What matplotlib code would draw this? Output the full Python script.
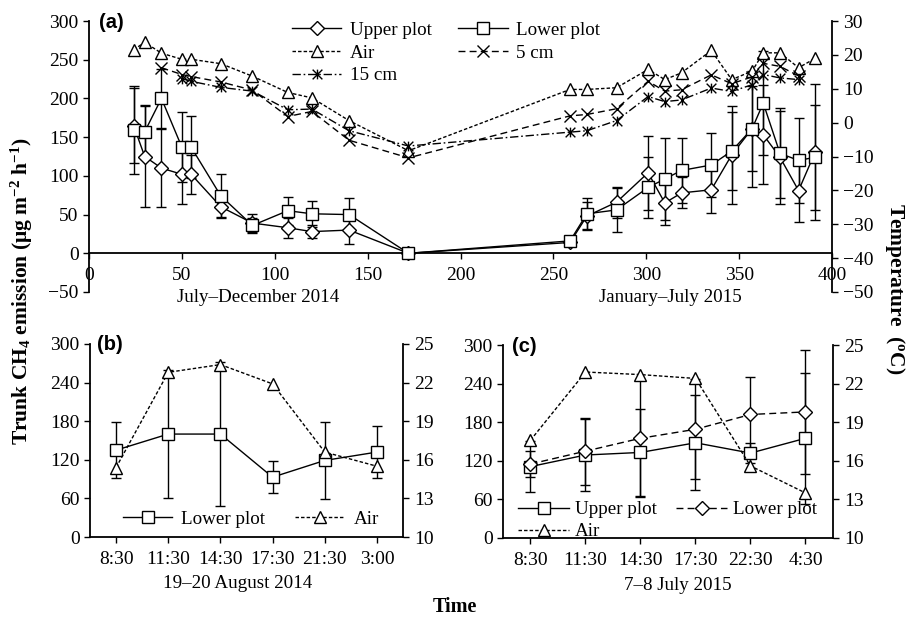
import matplotlib
matplotlib.use("Agg")
import matplotlib.pyplot as plt
from matplotlib.path import Path

plt.rcParams["font.family"] = "Liberation Serif"
plt.rcParams["font.size"] = 14
plt.rcParams["mathtext.fontset"] = "custom"
plt.rcParams["mathtext.rm"] = "Liberation Serif"
plt.rcParams["axes.linewidth"] = 1.3

W, H = 907, 621

# ---------------- panel (a) data ----------------
days = [24, 30, 39, 50, 55, 71, 88, 107, 120, 140, 172,
        259, 268, 284, 301, 310, 319, 335, 346, 357, 363, 372, 382, 391]
upper_a = [165, 125, 110, 102, 102, 60, 39, 33, 28, 30, 0,
           14, 48, 66, 104, 65, 78, 82, 127, 161, 153, 124, 81, 131]
upper_a_err = [48, 65, 50, 38, 25, 13, 12, 13, 8, 18, 0,
               3, 18, 20, 48, 28, 20, 30, 63, 75, 64, 60, 40, 88]
lower_a = [159, 157, 200, 137, 137, 74, 36, 55, 51, 50, 0,
           16, 51, 56, 85, 96, 107, 114, 132, 161, 194, 129, 120, 124]
lower_a_err = [57, 35, 38, 45, 40, 28, 10, 18, 17, 22, 0,
               3, 20, 28, 39, 53, 42, 41, 50, 55, 67, 58, 55, 68]
air_a = [21.5, 23.7, 20.5, 18.7, 18.7, 17.4, 13.7, 8.9, 7.3, 0.6, -8.3,
         9.8, 9.8, 10.3, 15.7, 12.7, 14.7, 21.3, 12.7, 15.2, 20.6, 20.6, 16.2, 19.0]
cm5_days = [39, 50, 55, 71, 88, 107, 120, 140, 172,
            259, 268, 284, 301, 310, 319, 335, 346, 357, 363, 372, 382]
cm5_a = [16.2, 14.2, 13.6, 12.0, 9.6, 1.8, 3.3, -5.2, -10.4,
         2.0, 2.4, 4.1, 12.2, 9.3, 9.7, 14.1, 11.5, 13.5, 17.5, 16.6, 13.8]
cm15_days = [50, 55, 71, 88, 107, 120, 140, 172,
             259, 268, 284, 301, 310, 319, 335, 346, 357, 363, 372, 382]
cm15_a = [13.0, 12.2, 10.4, 9.3, 3.8, 4.0, -2.4, -6.9,
          -2.8, -2.4, 0.6, 7.7, 6.2, 6.7, 10.2, 9.2, 11.2, 14.2, 13.2, 12.7]

# ---------------- panel (b) data ----------------
times_b = ["8:30", "11:30", "14:30", "17:30", "21:30", "3:00"]
lower_b = [135, 160, 160, 93, 119, 132]
lower_b_err = [43, 100, 112, 25, 60, 40]
air_b = [15.4, 22.8, 23.4, 21.9, 16.6, 15.5]

# ---------------- panel (c) data ----------------
times_c = ["8:30", "11:30", "14:30", "17:30", "22:30", "4:30"]
upper_c = [111, 129, 133, 148, 132, 155]
upper_c_err = [40, 56, 68, 74, 16, 102]
lower_c = [115, 135, 155, 169, 192, 196]
lower_c_err = [20, 52, 92, 78, 58, 96]
air_c = [17.6, 22.9, 22.7, 22.4, 15.6, 13.5]

# asterisk marker: X plus a vertical bar
asterisk = Path([(0, -1), (0, 1), (-1, -1), (1, 1), (-1, 1), (1, -1)],
                [Path.MOVETO, Path.LINETO, Path.MOVETO, Path.LINETO,
                 Path.MOVETO, Path.LINETO])

AIR_DASH = (2.5, 1.5)
CM5_DASH = (5, 3)
CM15_DASH = (6, 2, 1.2, 2)
mk = dict(mfc="white", mec="black", mew=1.0, color="black", lw=1.0)
eb = dict(fmt="none", ecolor="black", elinewidth=1.0, capsize=3.5, capthick=1.0)
LEG_FS = 13.7
TXT_FS = 13.7


def add_ax(l, t, r, b):
    return fig.add_axes([l / W, 1 - b / H, (r - l) / W, (b - t) / H])


def style_twin(ax2):
    for s in ["top", "bottom", "left"]:
        ax2.spines[s].set_visible(False)
    ax2.tick_params(axis="y", direction="out", length=4, width=1, pad=4)


fig = plt.figure(figsize=(W / 100, H / 100), dpi=100)

# ======================= (a) =======================
axa = add_ax(89, 21, 832, 292)
axa.errorbar(days, upper_a, yerr=upper_a_err, zorder=2, **eb)
axa.errorbar(days, lower_a, yerr=lower_a_err, zorder=2, **eb)
h_up, = axa.plot(days, upper_a, marker="D", ms=7, label="Upper plot", zorder=3, **mk)
h_lo, = axa.plot(days, lower_a, marker="s", ms=9, label="Lower plot", zorder=3, **mk)
axa.set_xlim(0, 400)
axa.set_ylim(-50, 300)
axa.set_xticks(range(0, 401, 50))
axa.set_yticks(range(-50, 301, 50))
axa.spines["bottom"].set_position(("data", 0))
axa.spines["top"].set_visible(False)
axa.spines["right"].set_visible(False)
axa.tick_params(axis="x", direction="out", length=4, width=1, pad=6)
axa.tick_params(axis="y", direction="out", length=4, width=1)

axa2 = axa.twinx()
h_air, = axa2.plot(days, air_a, marker="^", ms=9, dashes=AIR_DASH, label="Air", **mk)
h_5, = axa2.plot(cm5_days, cm5_a, marker="x", ms=8, dashes=CM5_DASH, label="5 cm", **mk)
h_15, = axa2.plot(cm15_days, cm15_a, marker=asterisk, ms=7, dashes=CM15_DASH, label="15 cm", **mk)
axa2.set_ylim(-50, 30)
axa2.set_yticks(range(-50, 31, 10))
style_twin(axa2)

axa2.legend([h_up, h_air, h_15, h_lo, h_5],
            ["Upper plot", "Air", "15 cm", "Lower plot", "5 cm"],
            ncol=2, loc="upper left", bbox_to_anchor=(0.273, 0.997),
            frameon=False, borderpad=0, borderaxespad=0, fontsize=LEG_FS,
            handlelength=2.6, handletextpad=0.45, columnspacing=1.4,
            labelspacing=0.28)

axa.text(91, -0.022, "July\u2013December 2014", transform=axa.get_xaxis_transform(),
         ha="center", va="center", fontsize=TXT_FS)
axa.text(313, -0.022, "January\u2013July 2015", transform=axa.get_xaxis_transform(),
         ha="center", va="center", fontsize=TXT_FS)
fig.text(99 / W, 1 - 22 / H, "(a)", family="Liberation Sans", weight="bold",
         fontsize=14.5, ha="left", va="center")

# ======================= (b) =======================
axb = add_ax(90, 344, 403, 537)
xb = list(range(len(times_b)))
axb.errorbar(xb, lower_b, yerr=lower_b_err, zorder=2, **eb)
hb_lo, = axb.plot(xb, lower_b, marker="s", ms=9, zorder=3, **mk)
axb.set_xlim(-0.5, 5.5)
axb.set_ylim(0, 300)
axb.set_yticks(range(0, 301, 60))
axb.set_xticks(xb)
axb.set_xticklabels(times_b)
axb.spines["top"].set_visible(False)
axb.spines["right"].set_visible(False)
axb.tick_params(axis="x", direction="out", length=4, width=1, pad=6)
axb.tick_params(axis="y", direction="out", length=4, width=1)
axb2 = axb.twinx()
hb_air, = axb2.plot(xb, air_b, marker="^", ms=9, dashes=AIR_DASH, **mk)
axb2.set_ylim(10, 25)
axb2.set_yticks(range(10, 26, 3))
style_twin(axb2)
axb2.legend([hb_lo, hb_air], ["Lower plot", "Air"], ncol=2, loc="center left",
            bbox_to_anchor=(0.105, 0.092), frameon=False, borderpad=0,
            borderaxespad=0, fontsize=LEG_FS, handlelength=2.6, handletextpad=0.45,
            columnspacing=1.6)
fig.text(97 / W, 1 - 345 / H, "(b)", family="Liberation Sans", weight="bold",
         fontsize=14.5, ha="left", va="center")
fig.text(238 / W, 1 - 584 / H, "19\u201320 August 2014", ha="center", va="center",
         fontsize=TXT_FS)

# ======================= (c) =======================
axc = add_ax(503, 345, 833, 538)
xc = list(range(len(times_c)))
axc.errorbar(xc, upper_c, yerr=upper_c_err, zorder=2, **eb)
axc.errorbar(xc, lower_c, yerr=lower_c_err, zorder=2, **eb)
hc_up, = axc.plot(xc, upper_c, marker="s", ms=9, zorder=3, **mk)
hc_lo, = axc.plot(xc, lower_c, marker="D", ms=7, dashes=CM5_DASH, zorder=3, **mk)
axc.set_xlim(-0.5, 5.5)
axc.set_ylim(0, 300)
axc.set_yticks(range(0, 301, 60))
axc.set_xticks(xc)
axc.set_xticklabels(times_c)
axc.spines["top"].set_visible(False)
axc.spines["right"].set_visible(False)
axc.tick_params(axis="x", direction="out", length=4, width=1, pad=6)
axc.tick_params(axis="y", direction="out", length=4, width=1)
axc2 = axc.twinx()
hc_air, = axc2.plot(xc, air_c, marker="^", ms=9, dashes=AIR_DASH, **mk)
axc2.set_ylim(10, 25)
axc2.set_yticks(range(10, 26, 3))
style_twin(axc2)
axc2.legend([hc_up, hc_air, hc_lo], ["Upper plot", "Air", "Lower plot"], ncol=2,
            loc="center left", bbox_to_anchor=(0.045, 0.09), frameon=False,
            borderpad=0, borderaxespad=0, fontsize=LEG_FS, handlelength=2.7,
            handletextpad=0.3, columnspacing=1.0, labelspacing=0.25)
fig.text(512 / W, 1 - 346 / H, "(c)", family="Liberation Sans", weight="bold",
         fontsize=14.5, ha="left", va="center")
fig.text(678 / W, 1 - 586 / H, "7\u20138 July 2015", ha="center", va="center",
         fontsize=TXT_FS)

# ---------------- shared labels ----------------
fig.text(22 / W, 1 - 291 / H,
         r"Trunk CH$\mathregular{_4}$ emission (μg m$\mathregular{^{-2}}$ h$\mathregular{^{-1}}$)",
         rotation=90, ha="center", va="center", fontsize=15.5, weight="bold")
fig.text(895 / W, 1 - 289 / H, r"Temperature  ($\mathregular{^{o}}$C)",
         rotation=270, ha="center", va="center", fontsize=15.5, weight="bold")
fig.text(455 / W, 1 - 607 / H, "Time", ha="center", va="center",
         fontsize=14.5, weight="bold")

fig.savefig("out.png", dpi=100)
